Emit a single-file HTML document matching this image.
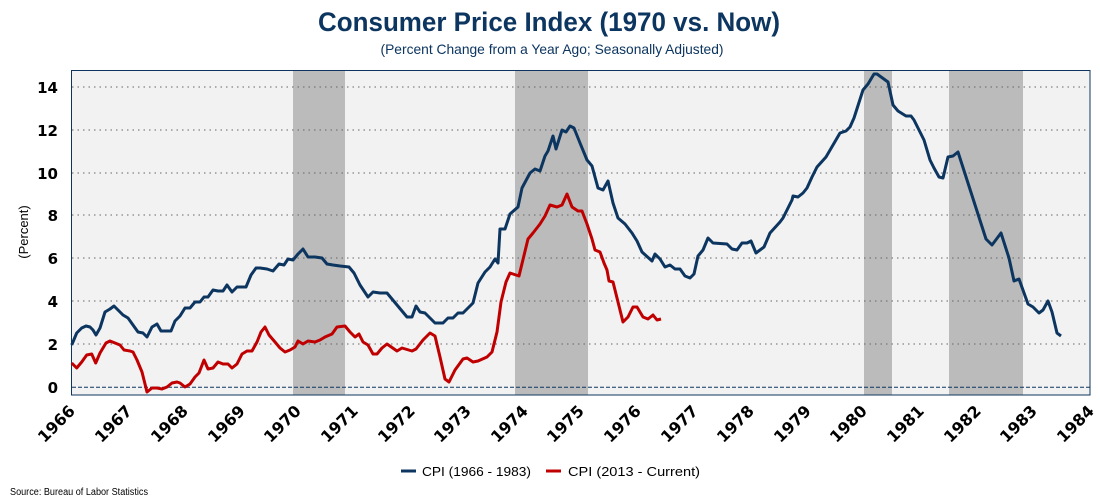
<!DOCTYPE html>
<html><head><meta charset="utf-8"><style>
html,body{margin:0;padding:0;background:#fff;}
svg{display:block;font-family:"Liberation Sans Narrow","Liberation Sans",sans-serif;}
</style></head><body>
<svg width="1100" height="500" viewBox="0 0 1100 500">
<text x="549" y="31" text-anchor="middle" font-size="27" font-weight="bold" fill="#0c3560" textLength="462" lengthAdjust="spacingAndGlyphs">Consumer Price Index (1970 vs. Now)</text>
<text x="552" y="54" text-anchor="middle" font-size="14" fill="#0c3560" textLength="343" lengthAdjust="spacingAndGlyphs">(Percent Change from a Year Ago; Seasonally Adjusted)</text>
<rect x="71.5" y="70.5" width="1018.5" height="324.5" fill="#f2f2f2"/>
<g fill="#bbbbbb">
<rect x="293" y="71" width="52" height="324"/>
<rect x="515" y="71" width="73" height="324"/>
<rect x="864" y="71" width="28" height="324"/>
<rect x="949" y="71" width="74" height="324"/>
</g>
<g stroke="#666" stroke-width="1" stroke-dasharray="1.5,4">
<line x1="72" x2="1090" y1="87" y2="87"/><line x1="72" x2="1090" y1="130" y2="130"/>
<line x1="72" x2="1090" y1="173" y2="173"/><line x1="72" x2="1090" y1="215" y2="215"/>
<line x1="72" x2="1090" y1="258" y2="258"/><line x1="72" x2="1090" y1="301" y2="301"/>
<line x1="72" x2="1090" y1="344" y2="344"/>
</g>
<line x1="72" x2="1090" y1="387.3" y2="387.3" stroke="#0c3560" stroke-width="1" stroke-dasharray="4,2"/>
<rect x="71.5" y="70.5" width="1018.5" height="324.5" fill="none" stroke="#0c3560" stroke-width="1"/>
<polyline fill="none" stroke="#c00000" stroke-width="3" stroke-linejoin="round" points="71.7,363 76.7,368 81.7,362 86.7,355 91.7,354 95.7,363 100,353 106,343 110,341 115,343 120,345 124,350 130,351 133,352 137,360 142,372 147,392 152,388 157,388 162,389 167,387 172,383 177,382 180,383 185,387 190,384 195,377 199,373 204,360 208,369 213,368 218,362 223,364 228,364 232,368 237,364 242,354 247,351 252,351 257,342 261,332 265,327 269,335 275,342 280,348 285,352 290,350 295,347 298,341 303,344 308,341 315,342 320,340 325,337 332,334 337,327 345,326 350,332 355,337 359,334 363,342 368,345 373,354 377,354 382,348 387,344 397,351 402,348 412,351 416,349 423,340 430,333 435,336 440,357 445,379 449,382 455,370 463,359 467,358 473,362 478,361 487,357 492,352 497,332 501,302 506,282 510,273 519,276 528,239 533,233 540,224 545,216 550,205 557,207 562,205 567,194 572,207 578,211 582,211 587,224 592,239 595,250 600,252 604,263 607,270 609,281 613,282 623,322 628,317 633,307 637,307 643,317 648,319 653,315 657,320 661,319"/>
<polyline fill="none" stroke="#0c3560" stroke-width="3" stroke-linejoin="round" points="71.7,345 76.7,333 81.7,328 86,326 90,327 93,330 96,335 100,328 105,312 110,309 114,306 118,310 123,315 128,318 133,325 138,332 143,333 147,337 152,327 157,324 161,331 167,331 171,331 175,321 180,316 185,308 190,308 195,302 200,302 204,297 208,297 213,290 218,291 223,291 227,285 232,292 237,287 242,287 246,287 251,275 256,268 260,268 267,269 273,271 279,264 284,265 288,259 293,260 298,254 303,249 308,257 315,257 322,258 327,264 333,265 340,266 349,267 354,273 360,285 368,297 373,292 380,293 387,293 397,305 407,317 412,317 416,306 420,312 425,313 435,323 443,323 448,318 453,318 458,313 463,313 473,303 478,283 485,272 490,267 495,259 498,263 500,229 505,229 510,214 518,207 522,188 530,173 535,169 540,171 545,156 548,151 553,136 556,149 562,130 566,132 570,126 574,128 580,143 587,160 592,166 598,188 603,190 608,181 613,203 618,218 625,224 632,233 637,241 642,252 652,261 655,254 660,259 665,267 670,265 675,269 680,269 685,276 690,278 694,274 698,256 703,250 708,238 713,243 727,244 732,249 737,250 742,243 747,243 751,241 756,253 764,247 770,233 780,222 783,218 792,200 793,196 798,197 803,193 807,188 812,177 817,167 826,157 840,133 846,131 850,127 854,118 863,90 868,84 874,74 877,74 888,82 893,105 898,111 906,116 911,116 914,120 918,128 924,140 930,160 934,168 939,177 943,178 948,157 953,156 958,152 986,239 992,245 1001,233 1009,258 1014,281 1019,279 1028,304 1033,307 1039,313 1043,310 1048,301 1052,312 1057,333 1061,336"/>
<g font-family="'DejaVu Sans',sans-serif" font-size="15" font-weight="bold" fill="#000" text-anchor="end">
<text x="58" y="93">14</text><text x="58" y="136">12</text><text x="58" y="179">10</text>
<text x="58" y="221">8</text><text x="58" y="264">6</text><text x="58" y="307">4</text>
<text x="58" y="350">2</text><text x="58" y="393">0</text>
</g>
<text transform="translate(28,232) rotate(-90)" text-anchor="middle" font-size="13" fill="#000">(Percent)</text>
<g font-family="'DejaVu Sans',sans-serif" font-size="16" font-weight="bold" fill="#000" text-anchor="end">
<text transform="translate(76,412) rotate(-45)">1966</text>
<text transform="translate(133,412) rotate(-45)">1967</text>
<text transform="translate(189,412) rotate(-45)">1968</text>
<text transform="translate(246,412) rotate(-45)">1969</text>
<text transform="translate(302,412) rotate(-45)">1970</text>
<text transform="translate(359,412) rotate(-45)">1971</text>
<text transform="translate(416,412) rotate(-45)">1972</text>
<text transform="translate(472,412) rotate(-45)">1973</text>
<text transform="translate(529,412) rotate(-45)">1974</text>
<text transform="translate(585,412) rotate(-45)">1975</text>
<text transform="translate(642,412) rotate(-45)">1976</text>
<text transform="translate(699,412) rotate(-45)">1977</text>
<text transform="translate(755,412) rotate(-45)">1978</text>
<text transform="translate(812,412) rotate(-45)">1979</text>
<text transform="translate(868,412) rotate(-45)">1980</text>
<text transform="translate(925,412) rotate(-45)">1981</text>
<text transform="translate(982,412) rotate(-45)">1982</text>
<text transform="translate(1038,412) rotate(-45)">1983</text>
<text transform="translate(1095,412) rotate(-45)">1984</text>
</g>
<line x1="401" x2="416" y1="471" y2="471" stroke="#0c3560" stroke-width="3"/>
<text x="422" y="476" font-size="13" fill="#000" textLength="109" lengthAdjust="spacingAndGlyphs">CPI (1966 - 1983)</text>
<line x1="546" x2="561" y1="471" y2="471" stroke="#c00000" stroke-width="3"/>
<text x="568" y="476" font-size="13" fill="#000" textLength="132" lengthAdjust="spacingAndGlyphs">CPI (2013 - Current)</text>
<text x="10" y="495" font-size="10" fill="#000" textLength="138" lengthAdjust="spacingAndGlyphs">Source: Bureau of Labor Statistics</text>
</svg>
</body></html>
